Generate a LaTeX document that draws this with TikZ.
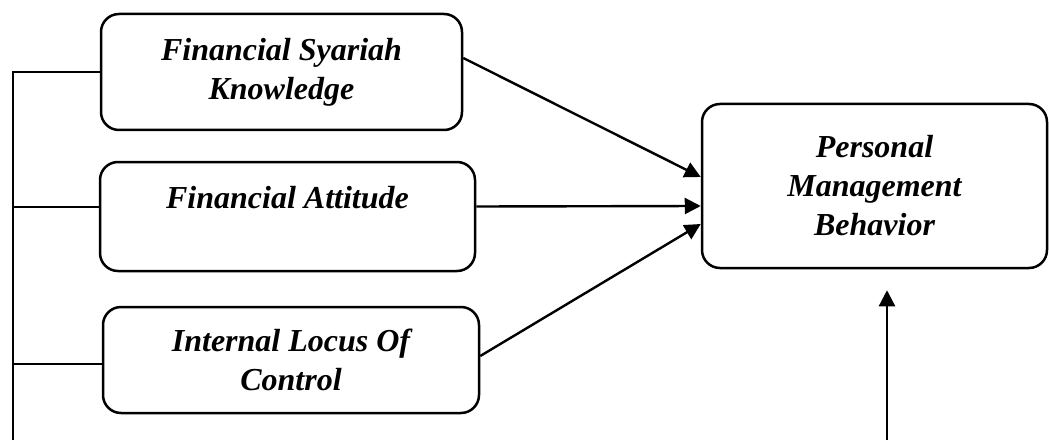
\documentclass[tikz,border=0pt]{standalone}
\usepackage{fontspec}
\setmainfont{Liberation Serif}
\usetikzlibrary{arrows.meta}
\begin{document}
\begin{tikzpicture}[x=1pt,y=1pt,
  box/.style={draw, line width=2.5pt, rounded corners=18pt, align=center,
    font=\fontsize{32}{39}\selectfont\bfseries\itshape, inner sep=0pt},
  conn/.style={line width=2.4pt},
  arr/.style={line width=2.4pt, -{Triangle[length=16pt,width=16pt]}}]
\useasboundingbox (0,0) rectangle (1049,440);
\node[box, minimum width=361, minimum height=116] (fsk) at (281.5,368) {Financial Syariah\\Knowledge};
\node[box, minimum width=375, minimum height=109] (fa) at (287.5,223.5) {Financial Attitude\\[-12pt]\strut};
\node[box, minimum width=376, minimum height=106] (ilc) at (291,80) {Internal Locus Of\\Control};
\node[box, minimum width=345, minimum height=164] (pmb) at (874.5,254) {Personal\\Management\\Behavior};
% left bracket
\coordinate (ltop) at (13,368);
\coordinate (lbot) at (13,0);
\coordinate (lmid) at (13,233);
\coordinate (llow) at (13,76);
\draw[conn] (lbot) -- (ltop) -- (fsk.west);
\draw[conn] (lmid) -- ([yshift=9.5]fa.west);
\draw[conn] (llow) -- ([yshift=-4]ilc.west);
% arrows
\draw[arr] ([yshift=14]fsk.east) -- ([yshift=9]pmb.west);
\draw[arr] ([yshift=10]fa.east) -- ([yshift=-20]pmb.west);
\draw[arr] ([yshift=4]ilc.east) -- ([yshift=-38]pmb.west);
\coordinate (vbot) at (887,0);
\draw[arr] (vbot) -- ([xshift=12.5,yshift=-21]pmb.south);
\end{tikzpicture}
\end{document}
